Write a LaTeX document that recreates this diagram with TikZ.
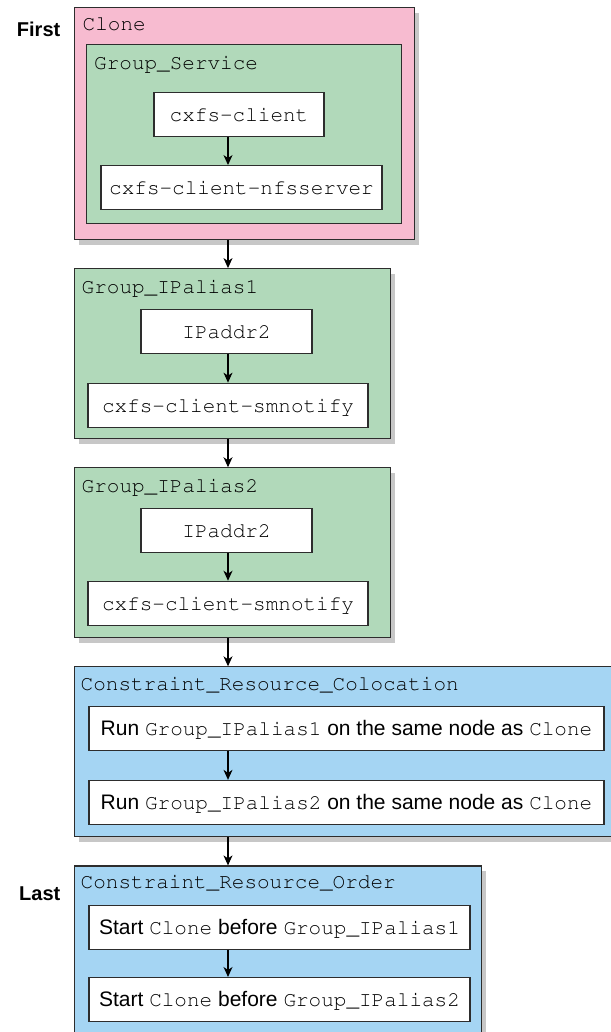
\documentclass[tikz,border=0pt]{standalone}
\usepackage[T1]{fontenc}
\usepackage{fontspec}
\setmainfont{Liberation Sans}
\usepackage{tikz}
\usetikzlibrary{positioning,shadows,arrows.meta}

\definecolor{clonepink}{RGB}{247,187,208}
\definecolor{groupgreen}{RGB}{177,217,186}
\definecolor{ruleblue}{RGB}{165,213,243}
\definecolor{edge}{RGB}{45,45,45}
\newcommand\cour{\fontencoding{T1}\fontfamily{pcr}\selectfont}
\newcommand\code[1]{{\cour #1}}

\begin{document}
\begin{tikzpicture}[x=1pt, y=-1pt, node distance=28pt,
	box/.style={rectangle, draw=edge, line width=1.1pt, inner sep=0pt, anchor=north west},
	shade/.style={drop shadow={shadow xshift=5pt, shadow yshift=-5pt, fill=black!22, opacity=1}},
	res/.style={rectangle, draw=edge, fill=white, line width=1.1pt, inner sep=0pt, minimum height=44pt, text height=15pt, text depth=1pt, font=\fontsize{21}{25}\selectfont},
	title/.style={anchor=base west, inner sep=0pt, font=\fontsize{21}{25}\selectfont\cour},
	side/.style={anchor=base east, inner sep=0pt, font=\bfseries\fontsize{20}{24}\selectfont},
	flow/.style={-{Stealth[length=10pt, width=9pt, inset=3pt]}, line width=1.1pt, draw=black}]
	\useasboundingbox (0,0) rectangle (610,1032);
	\coordinate (spine) at (228,0);

	% clone with its service group
	\node (clone) [box, shade, fill=clonepink, minimum width=340pt, minimum height=232pt] at (73.5,7) {};
	\node (clonetitle) [title] at ([xshift=9pt, yshift=-24pt]clone.north west) {Clone};
	\node (first) [side] at ([xshift=-13pt, yshift=-30pt]clone.north west) {First};
	\node (service) [box, fill=groupgreen, minimum width=315pt, minimum height=179pt] at ([xshift=12.5pt, yshift=-37pt]clone.north west) {};
	\node (servicetitle) [title] at ([xshift=8pt, yshift=-26pt]service.north west) {Group\_Service};
	\node (client) [res, minimum width=170pt] at (239,114.5) {\code{cxfs-client}};
	\node (nfs) [res, minimum width=281pt, below=28pt of client, xshift=2.5pt] {\code{cxfs-client-nfsserver}};

	% ip alias groups
	\node (alias1) [box, shade, fill=groupgreen, minimum width=316pt, minimum height=170pt, below=28pt of clone.south west, anchor=north west] {};
	\node (alias1title) [title] at ([xshift=8pt, yshift=-25pt]alias1.north west) {Group\_IPalias1};
	\node (addr1) [res, minimum width=171pt] at ([yshift=-63pt]alias1.north -| 226.5,0) {\code{IPaddr2}};
	\node (notify1) [res, minimum width=280pt, below=29pt of addr1, xshift=1.5pt] {\code{cxfs-client-smnotify}};

	\node (alias2) [box, shade, fill=groupgreen, minimum width=316pt, minimum height=170pt, below=28pt of alias1.south west, anchor=north west] {};
	\node (alias2title) [title] at ([xshift=8pt, yshift=-25pt]alias2.north west) {Group\_IPalias2};
	\node (addr2) [res, minimum width=171pt] at ([yshift=-63pt]alias2.north -| 226.5,0) {\code{IPaddr2}};
	\node (notify2) [res, minimum width=280pt, below=28pt of addr2, xshift=1.5pt] {\code{cxfs-client-smnotify}};

	% constraints
	\node (coloc) [box, shade, fill=ruleblue, minimum width=537.5pt, minimum height=170pt, below=28pt of alias2.south west, anchor=north west] {};
	\node (coloctitle) [title] at ([xshift=7pt, yshift=-24pt]coloc.north west) {Constraint\_Resource\_Colocation};
	\node (run1) [res, minimum width=515pt] at ([yshift=-62pt]coloc.north -| 346.5,0) {Run \code{Group\_IPalias1} on the same node as \code{Clone}};
	\node (run2) [res, minimum width=515pt, below=29pt of run1] {Run \code{Group\_IPalias2} on the same node as \code{Clone}};

	\node (order) [box, shade, fill=ruleblue, minimum width=407pt, minimum height=169pt, below=28pt of coloc.south west, anchor=north west] {};
	\node (ordertitle) [title] at ([xshift=7pt, yshift=-23pt]order.north west) {Constraint\_Resource\_Order};
	\node (last) [side] at ([xshift=-13pt, yshift=-35pt]order.north west) {Last};
	\node (start1) [res, minimum width=381pt] at ([yshift=-62pt]order.north -| 279.5,0) {Start \code{Clone} before \code{Group\_IPalias1}};
	\node (start2) [res, minimum width=381pt, below=27pt of start1] {Start \code{Clone} before \code{Group\_IPalias2}};

	\draw[flow] (client.south -| spine) -- (nfs.north -| spine);
	\draw[flow] (clone.south -| spine) -- (alias1.north -| spine);
	\draw[flow] (addr1.south -| spine) -- (notify1.north -| spine);
	\draw[flow] (alias1.south -| spine) -- (alias2.north -| spine);
	\draw[flow] (addr2.south -| spine) -- (notify2.north -| spine);
	\draw[flow] (alias2.south -| spine) -- (coloc.north -| spine);
	\draw[flow] (run1.south -| spine) -- (run2.north -| spine);
	\draw[flow] (coloc.south -| spine) -- (order.north -| spine);
	\draw[flow] (start1.south -| spine) -- (start2.north -| spine);
\end{tikzpicture}
\end{document}
